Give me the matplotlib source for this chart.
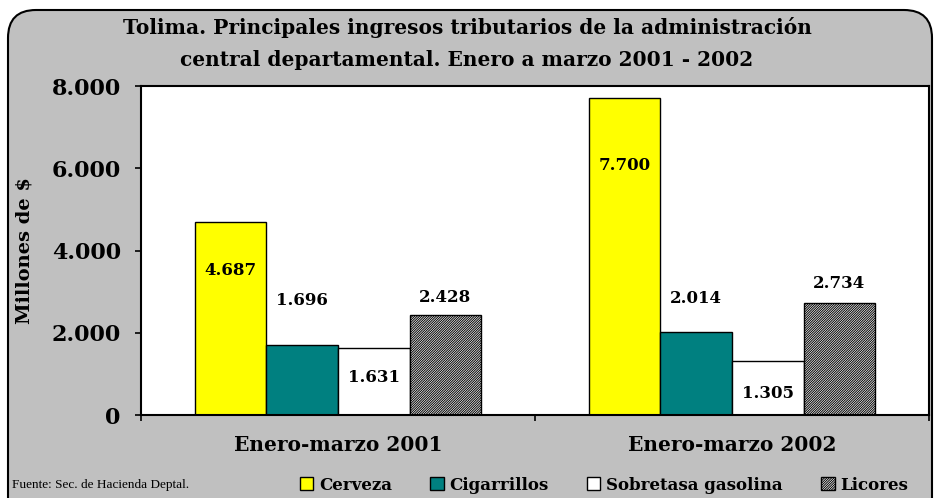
import numpy as np
import matplotlib
matplotlib.use("Agg")
import matplotlib.pyplot as plt
from matplotlib.patches import FancyBboxPatch, Patch
import matplotlib.transforms as mtransforms

# data
periods = ["Enero-marzo 2001", "Enero-marzo 2002"]
series = ["Cerveza", "Cigarrillos", "Sobretasa gasolina", "Licores"]
cerveza = [4687, 7700]
cigarrillos = [1696, 2014]
sobretasa = [1631, 1305]
licores = [2428, 2734]
yticks = [0, 2000, 4000, 6000, 8000]
ytick_labels = ["0", "2.000", "4.000", "6.000", "8.000"]

values = [cerveza, cigarrillos, sobretasa, licores]
colors = ["#FFFF00", "#008080", "#FFFFFF", "#FFFFFF"]
hatches = [None, None, None, "/" * 14]
# label offset (pixels) from bar top, per series / per period
label_off = [[-48, -67], [45, 34], [-30, -32], [18, 19]]

plt.rcParams["hatch.linewidth"] = 0.7

fig = plt.figure(figsize=(9.34, 4.98), dpi=100, facecolor="white")

# rounded gray frame behind everything
frame = FancyBboxPatch((8, -30), 924, 518,
                       boxstyle="round,pad=0,rounding_size=28",
                       transform=mtransforms.IdentityTransform(),
                       facecolor="#C0C0C0", edgecolor="black", linewidth=1.5,
                       zorder=-10)
fig.add_artist(frame)

ax = fig.add_axes([141 / 934, 83 / 498, 788 / 934, 329 / 498])
ax.set_facecolor("white")

x = np.arange(len(periods))
w = 0.1815
for i, (vals, c, h) in enumerate(zip(values, colors, hatches)):
    pos = x + (i - 1.5) * w
    ax.bar(pos, vals, width=w, color=c, edgecolor="black", linewidth=1.0,
           hatch=h, label=series[i], zorder=2)
    for j, v in enumerate(vals):
        lbl = f"{v:,}".replace(",", ".")
        ax.annotate(lbl, (pos[j], v), xytext=(0, label_off[i][j]),
                    textcoords="offset pixels", ha="center", va="center",
                    fontsize=12, fontweight="bold", family="DejaVu Serif")

ax.set_xlim(-0.5, 1.5)
ax.set_ylim(0, 8000)
ax.set_yticks(yticks)
ax.set_yticklabels(ytick_labels, fontsize=16, fontweight="bold", family="DejaVu Serif")
ax.set_xticks([-0.5, 0.5, 1.5])
ax.set_xticklabels([])
ax.tick_params(axis="y", direction="out", length=4.5, width=1.2, pad=10)
ax.tick_params(axis="x", direction="out", length=4, width=1.2)
for s in ax.spines.values():
    s.set_linewidth(1.5)

for j, p in enumerate(periods):
    ax.text(x[j], -0.09, p, transform=ax.get_xaxis_transform(), ha="center", va="center",
            fontsize=14.5, fontweight="bold", family="DejaVu Serif")

ax.set_ylabel("Millones de $", fontsize=14, fontweight="bold", family="DejaVu Serif")
ax.yaxis.set_label_coords((34 - 141) / 788, 0.5)

fig.text(0.5, 1 - 28 / 498, "Tolima. Principales ingresos tributarios de la administración",
         ha="center", va="center", fontsize=14.5, fontweight="bold", family="DejaVu Serif")
fig.text(0.5, 1 - 60 / 498, "central departamental. Enero a marzo 2001 - 2002",
         ha="center", va="center", fontsize=14.5, fontweight="bold", family="DejaVu Serif")

fig.text(12 / 934, 13 / 498, "Fuente: Sec. de Hacienda Deptal.", ha="left", va="center",
         fontsize=9.5, family="Liberation Serif")

handles = [Patch(facecolor=c, edgecolor="black", hatch=h, linewidth=1.0)
           for c, h in zip(colors, hatches)]
leg = fig.legend(handles, series, loc="center", bbox_to_anchor=(604 / 934, 13 / 498),
                 ncol=4, frameon=False, handlelength=0.8, handleheight=0.8,
                 handletextpad=0.35, columnspacing=2.3,
                 prop={"family": "DejaVu Serif", "weight": "bold", "size": 12})

fig.savefig("out.png", dpi=100)
